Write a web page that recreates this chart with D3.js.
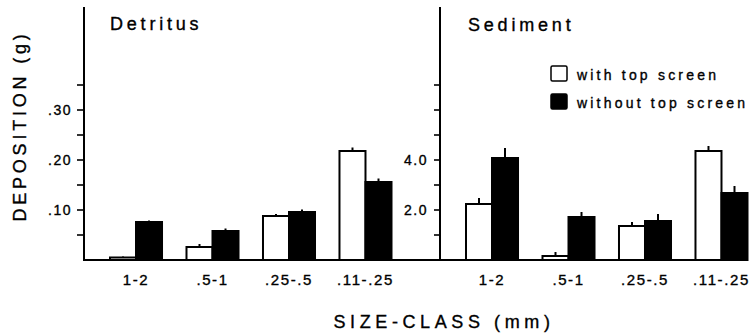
<!DOCTYPE html>
<html>
<head>
<meta charset="utf-8">
<script src="https://d3js.org/d3.v7.min.js"></script>
<style>
  body { margin: 0; background: #fff; }
  svg { display: block; font-family: "Liberation Sans", Arial, sans-serif; }
  text { fill: #000; stroke: #000; stroke-width: 0.35px; }
  .tick-label { font-size: 14px; letter-spacing: 1.5px; }
  .cat-label { font-size: 15px; letter-spacing: 1.6px; }
</style>
</head>
<body>
<script>

var categories = ["1-2", ".5-1", ".25-.5", ".11-.25"];

var detritusWith = [0.005, 0.026, 0.088, 0.218],
    detritusWithErr = [0.002, 0.006, 0.004, 0.007],
    detritusWithout = [0.076, 0.058, 0.096, 0.156],
    detritusWithoutErr = [0.003, 0.005, 0.005, 0.007];

var sedimentWith = [2.24, 0.16, 1.36, 4.36],
    sedimentWithErr = [0.24, 0.16, 0.16, 0.2],
    sedimentWithout = [4.08, 1.72, 1.56, 2.68],
    sedimentWithoutErr = [0.4, 0.2, 0.28, 0.28];

var detritusTicks = [0.05, 0.10, 0.15, 0.20, 0.25, 0.30, 0.35],
    detritusLabels = [0.10, 0.20, 0.30];
var sedimentTicks = [1, 2, 3, 4, 5, 6, 7],
    sedimentLabels = [2, 4];

var seriesNames = ["with top screen", "without top screen"];

var width = 751,
    height = 335,
    baseY = 260,
    topY = 7;

var svg = d3.select("body").append("svg")
    .attr("width", width)
    .attr("height", height);

var panels = [
  { title: "Detritus", axisX: 84, x0: 110, titleX: 110, titleY: 30, tickLen: 7,
    domain: [0, 0.506], ticks: detritusTicks, labels: detritusLabels,
    fmt: function(d) { return d3.format(".2f")(d).replace(/^0/, ""); },
    a: detritusWith, aErr: detritusWithErr, b: detritusWithout, bErr: detritusWithoutErr },
  { title: "Sediment", axisX: 440, x0: 466, titleX: 468, titleY: 31, tickLen: 6,
    domain: [0, 10.12], ticks: sedimentTicks, labels: sedimentLabels,
    fmt: d3.format(".1f"),
    a: sedimentWith, aErr: sedimentWithErr, b: sedimentWithout, bErr: sedimentWithoutErr }
];

// one continuous baseline under both panels
svg.append("line")
    .attr("x1", 84).attr("x2", 748)
    .attr("y1", baseY).attr("y2", baseY)
    .attr("stroke", "#000").attr("stroke-width", 2);

panels.forEach(function(p) {
  var g = svg.append("g");

  var y = d3.scaleLinear().domain(p.domain).range([baseY, topY]);

  var x = d3.scaleBand()
      .domain(categories)
      .range([p.x0, p.x0 + 281.5])
      .paddingInner(0.32)
      .paddingOuter(0);

  var xs = d3.scaleBand()
      .domain(seriesNames)
      .range([0, x.bandwidth()]);

  // y axis line
  g.append("line")
      .attr("x1", p.axisX).attr("x2", p.axisX)
      .attr("y1", topY).attr("y2", baseY + 1)
      .attr("stroke", "#000").attr("stroke-width", 2);

  // ticks
  g.selectAll(".tk")
      .data(p.ticks)
    .enter().append("line")
      .attr("class", "tk")
      .attr("x1", p.axisX - p.tickLen).attr("x2", p.axisX)
      .attr("y1", function(d) { return y(d); })
      .attr("y2", function(d) { return y(d); })
      .attr("stroke", "#000").attr("stroke-width", 1.6);

  g.selectAll(".tick-label")
      .data(p.labels)
    .enter().append("text")
      .attr("class", "tick-label")
      .attr("x", p.axisX - 12)
      .attr("y", function(d) { return y(d) + 5; })
      .attr("text-anchor", "end")
      .text(p.fmt);

  // panel title
  g.append("text")
      .attr("x", p.titleX)
      .attr("y", p.titleY)
      .style("font-size", "18px")
      .style("letter-spacing", "3.8px")
      .text(p.title);

  // bars
  var rows = categories.map(function(c, i) {
    return [
      { cat: c, s: seriesNames[0], v: p.a[i], e: p.aErr[i] },
      { cat: c, s: seriesNames[1], v: p.b[i], e: p.bErr[i] }
    ];
  });
  var flat = d3.merge(rows);

  g.selectAll(".err")
      .data(flat)
    .enter().append("line")
      .attr("class", "err")
      .attr("x1", function(d) { return x(d.cat) + xs(d.s) + xs.bandwidth() / 2; })
      .attr("x2", function(d) { return x(d.cat) + xs(d.s) + xs.bandwidth() / 2; })
      .attr("y1", function(d) { return y(d.v); })
      .attr("y2", function(d) { return y(d.v + d.e); })
      .attr("stroke", "#000").attr("stroke-width", 2);

  g.selectAll(".bar")
      .data(flat)
    .enter().append("rect")
      .attr("class", "bar")
      .attr("x", function(d) { return x(d.cat) + xs(d.s); })
      .attr("width", xs.bandwidth())
      .attr("y", function(d) { return y(d.v); })
      .attr("height", function(d) { return baseY - y(d.v); })
      .attr("fill", function(d) { return d.s === seriesNames[0] ? "#fff" : "#000"; })
      .attr("stroke", "#000")
      .attr("stroke-width", 2);

  g.selectAll(".cat-label")
      .data(categories)
    .enter().append("text")
      .attr("class", "cat-label")
      .attr("x", function(d) { return x(d) + x.bandwidth() / 2; })
      .attr("y", 285)
      .attr("text-anchor", "middle")
      .text(function(d) { return d; });
});

// Legend.
var legend = svg.selectAll("g.legend")
    .data(seriesNames)
  .enter().append("g")
    .attr("class", "legend")
    .attr("transform", function(d, i) { return "translate(551," + (66 + i * 28) + ")"; });

legend.append("rect")
    .attr("width", 16)
    .attr("height", 15)
    .attr("rx", 1.5)
    .attr("fill", function(d, i) { return i ? "#000" : "#fff"; })
    .attr("stroke", "#000")
    .attr("stroke-width", 1.5);

legend.append("text")
    .attr("x", 26)
    .attr("y", 14)
    .style("font-size", "14px")
    .style("letter-spacing", "3.2px")
    .text(function(d) { return d; });

// axis titles
svg.append("text")
    .attr("transform", "translate(26,126) rotate(-90)")
    .attr("text-anchor", "middle")
    .style("font-size", "18px")
    .style("letter-spacing", "3.8px")
    .text("DEPOSITION (g)");

svg.append("text")
    .attr("x", 444)
    .attr("y", 328)
    .attr("text-anchor", "middle")
    .style("font-size", "18px")
    .style("letter-spacing", "4.6px")
    .text("SIZE-CLASS (mm)");

</script>
</body>
</html>
